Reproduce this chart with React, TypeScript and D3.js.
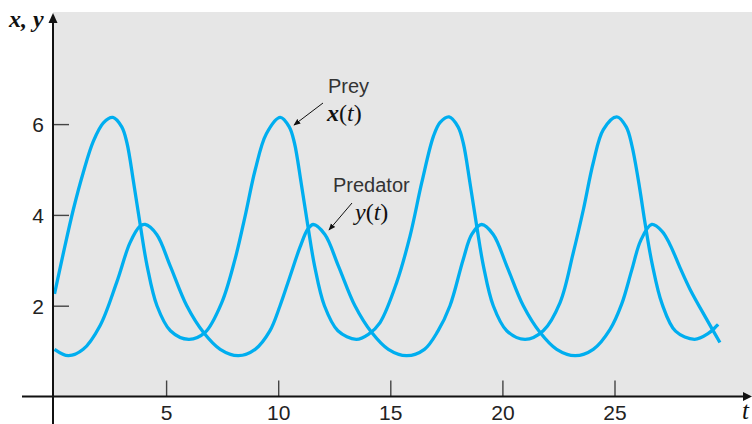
import React from "react";
import * as d3 from "d3";

// Prey x(t): sample times and values
const preyT = [0, 0.4, 0.84, 1.28, 1.73, 2.18, 2.6, 3.0, 3.23, 3.53, 3.83, 4.13, 4.57, 5.17, 5.99, 6.71, 7.46, 8.05, 8.5, 8.95, 9.45, 10.07,
  10.47, 10.7, 11.0, 11.3, 11.6, 12.04, 12.64, 13.46, 14.0, 14.52, 15.26, 15.86, 16.38, 16.9, 17.2, 17.6,
  18.0, 18.23, 18.53, 18.83, 19.13, 19.57, 20.17, 20.99, 21.8, 22.55, 23.14, 23.59, 24.03, 24.48, 25.08,
  25.5, 25.75, 26.05, 26.35, 26.65, 27.1, 27.7, 28.55, 29.16, 29.6];
const preyV = [2.27, 3.18, 4.13, 4.94, 5.63, 6.04, 6.16, 5.95, 5.6, 4.72, 3.77, 2.89, 2.01, 1.46, 1.27, 1.42, 2.08, 3.03, 3.98, 5.0, 5.8, 6.16,
  5.95, 5.6, 4.72, 3.77, 2.89, 2.01, 1.46, 1.27, 1.38, 1.64, 2.52, 3.55, 4.72, 5.74, 6.05, 6.17,
  5.95, 5.6, 4.72, 3.77, 2.89, 2.01, 1.46, 1.27, 1.46, 2.08, 3.18, 4.13, 5.16, 5.89, 6.17,
  5.95, 5.55, 4.75, 3.8, 2.95, 2.05, 1.45, 1.27, 1.4, 1.6];

// Predator y(t)
const predT = [0, 0.62, 1.28, 2.03, 2.77, 3.37, 3.81, 4.04, 4.56, 5.16, 5.9, 6.65, 7.39, 8.2,
  8.95, 9.6, 10.06, 10.5, 10.95, 11.3, 11.54, 12.06, 12.66, 13.4, 14.15, 14.89, 15.71,
  16.5, 17.1, 17.64, 18.23, 18.61, 19.05, 19.57, 20.17, 20.91, 21.66, 22.4, 23.22,
  24.03, 24.78, 25.3, 25.75, 26.15, 26.64, 27.1, 27.46, 27.9, 28.35, 29.09, 29.68];
const predV = [1.05, 0.91, 1.05, 1.57, 2.52, 3.4, 3.76, 3.8, 3.58, 2.89, 2.01, 1.42, 1.05, 0.91,
  1.05, 1.45, 2.01, 2.65, 3.3, 3.7, 3.8, 3.58, 2.89, 2.01, 1.42, 1.05, 0.91,
  1.05, 1.45, 2.01, 3.03, 3.58, 3.8, 3.58, 2.89, 2.01, 1.42, 1.05, 0.91,
  1.05, 1.49, 2.05, 2.8, 3.45, 3.8, 3.65, 3.35, 2.85, 2.37, 1.71, 1.2];

const xTicks = [5, 10, 15, 20, 25];
const yTicks = [2, 4, 6];

const W = 752;
const H = 424;
const CURVE = "#00aeef";

export default function App() {
  const x = d3.scaleLinear().domain([0, 30]).range([54.5, 54.5 + 30 * 22.42]);
  const y = d3.scaleLinear().domain([0, 7]).range([397, 397 - 7 * 45.4]);
  const axisX = 53;
  const axisY = 396.5;

  const mk = (T: number[], V: number[]) =>
    d3
      .line<number>()
      .x((_, i) => x(T[i]))
      .y((d) => y(d))
      .curve(d3.curveCatmullRom.alpha(0.5))(V) || "";

  const tickFont = "'Liberation Sans', Arial, sans-serif";
  const serif = "'Liberation Serif', 'Times New Roman', serif";

  return (
    <svg width={W} height={H} style={{ position: "absolute", left: 0, top: 0 }}>
      <defs>
        <marker id="ah" viewBox="0 0 10 10" refX="9" refY="5" markerWidth="7" markerHeight="7" orient="auto">
          <path d="M0,1 L10,5 L0,9 Z" fill="#111" />
        </marker>
      </defs>
      <rect x={axisX} y={12} width={W - axisX} height={axisY - 12} fill="#e6e6e6" />
      {xTicks.map((t) => (
        <g key={"xt" + t}>
          <line x1={x(t)} x2={x(t)} y1={axisY} y2={axisY - 16} stroke="#444" strokeWidth={1.4} />
          <text x={x(t)} y={420} textAnchor="middle" fontFamily={tickFont} fontSize={21} fill="#222">
            {t}
          </text>
        </g>
      ))}
      {yTicks.map((v) => (
        <g key={"yt" + v}>
          <line x1={axisX} x2={axisX + 16} y1={y(v)} y2={y(v)} stroke="#444" strokeWidth={1.4} />
          <text x={44} y={y(v) + 7.5} textAnchor="end" fontFamily={tickFont} fontSize={21} fill="#222">
            {v}
          </text>
        </g>
      ))}
      <path d={mk(preyT, preyV)} fill="none" stroke={CURVE} strokeWidth={3.3} strokeLinejoin="round" strokeLinecap="butt" />
      <path d={mk(predT, predV)} fill="none" stroke={CURVE} strokeWidth={3.3} strokeLinejoin="round" strokeLinecap="butt" />
      <line x1={22} x2={746} y1={axisY} y2={axisY} stroke="#111" strokeWidth={2} />
      <path d={`M752,${axisY} L743,${axisY - 4.5} L743,${axisY + 4.5} Z`} fill="#111" />
      <line x1={axisX} x2={axisX} y1={H} y2={20} stroke="#111" strokeWidth={2} />
      <path d={`M${axisX},13 L${axisX - 4.5},23 L${axisX + 4.5},23 Z`} fill="#111" />
      <text x={9} y={27} fontFamily={serif} fontStyle="italic" fontWeight="bold" fontSize={24} fill="#111">
        x, y
      </text>
      <text x={742} y={419} fontFamily={serif} fontStyle="italic" fontSize={25} fill="#111">
        t
      </text>
      <text x={328} y={93} fontFamily={tickFont} fontSize={20} fill="#333">Prey</text>
      <text x={327} y={121} fontFamily={serif} fontSize={24} fill="#111">
        <tspan fontStyle="italic" fontWeight="bold">x</tspan>
        <tspan>(</tspan>
        <tspan fontStyle="italic">t</tspan>
        <tspan>)</tspan>
      </text>
      <line x1={323} y1={103} x2={294} y2={125} stroke="#111" strokeWidth={1} markerEnd="url(#ah)" />
      <text x={333} y={192} fontFamily={tickFont} fontSize={20} fill="#333">Predator</text>
      <text x={355} y={220} fontFamily={serif} fontSize={24} fill="#111">
        <tspan fontStyle="italic">y</tspan>
        <tspan>(</tspan>
        <tspan fontStyle="italic">t</tspan>
        <tspan>)</tspan>
      </text>
      <line x1={352} y1={203} x2={329} y2={230} stroke="#111" strokeWidth={1} markerEnd="url(#ah)" />
    </svg>
  );
}
